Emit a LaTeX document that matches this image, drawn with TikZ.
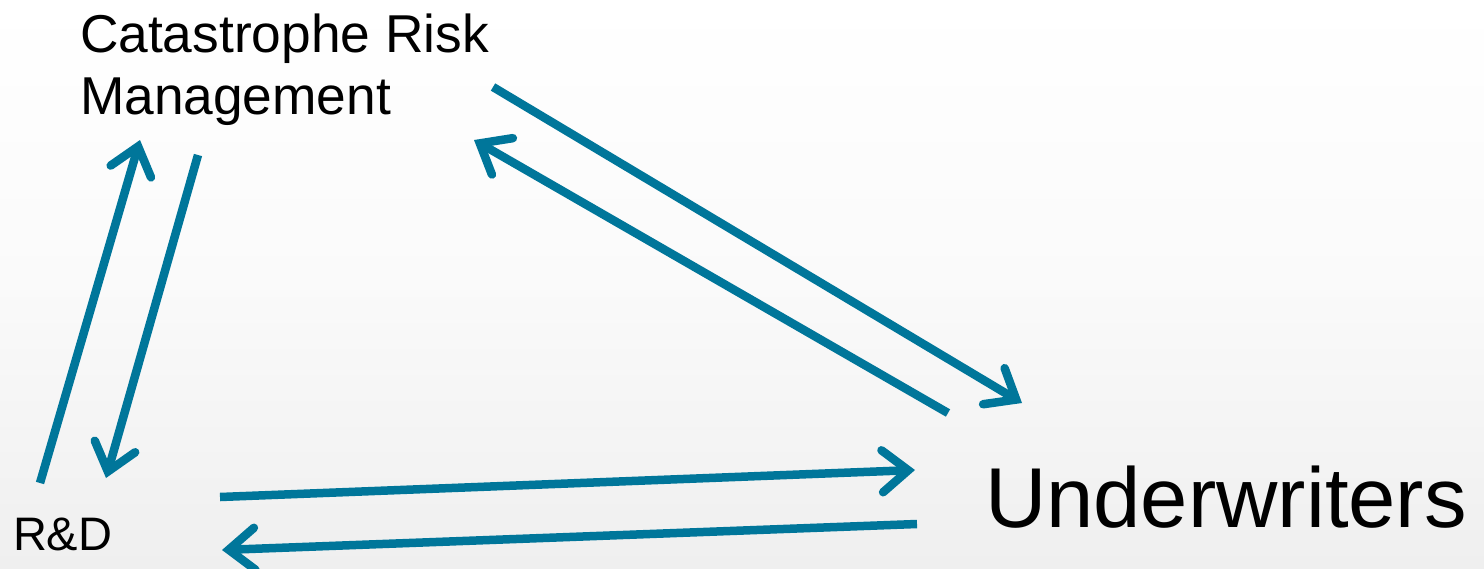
\documentclass[tikz,border=0pt]{standalone}
\usepackage{fontspec}
\setmainfont{Liberation Sans}
\usetikzlibrary{arrows.meta}
\definecolor{arrowblue}{RGB}{0,118,154}
\definecolor{bgbottom}{RGB}{239,239,239}
\tikzset{
  lbl/.style={inner sep=0pt, outer sep=0pt, text=black},
  flow/.style={draw=arrowblue, line width=8.5pt, line cap=butt,
    -{Straight Barb[length=26pt,width=42pt,line cap=round,line join=miter]}},
}
\begin{document}
\begin{tikzpicture}[x=1pt,y=-1pt]
\useasboundingbox (0,0) rectangle (1484,568);
\shade[top color=white, bottom color=bgbottom, middle color={rgb,255:red,250;green,250;blue,250}] (0,0) rectangle (1484,568);

\node[lbl, anchor=north west, align=left, font=\fontsize{53.3}{62}\selectfont] (crm) at (80,14) {Catastrophe Risk\\Management};
\node[lbl, anchor=base west, font=\fontsize{85}{92}\selectfont] (uw) at (985,527) {Underwriters};
\node[lbl, anchor=base west, font=\fontsize{47}{52}\selectfont] (rd) at (13,550) {R\&D};

\coordinate (a1s) at (40,483);  \coordinate (a1e) at (140,140);
\coordinate (a2s) at (198,155); \coordinate (a2e) at (106,478);
\coordinate (a3s) at (493,87);  \coordinate (a3e) at (1022,403);
\coordinate (a4s) at (948,413); \coordinate (a4e) at (474,140);
\coordinate (a5s) at (220,497); \coordinate (a5e) at (915,470);
\coordinate (a6s) at (917,524); \coordinate (a6e) at (222,550);

\draw[flow] (a1s) -- (a1e);
\draw[flow] (a2s) -- (a2e);
\draw[flow] (a3s) -- (a3e);
\draw[flow] (a4s) -- (a4e);
\draw[flow] (a5s) -- (a5e);
\draw[flow] (a6s) -- (a6e);
\end{tikzpicture}
\end{document}
